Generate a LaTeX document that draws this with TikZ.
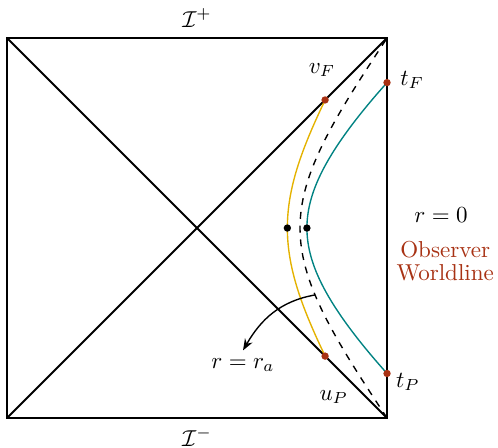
\documentclass[tikz,border=0pt]{standalone}
\usepackage{tikz}
\usetikzlibrary{arrows.meta}

\definecolor{rust}{RGB}{168,50,20}
\definecolor{gold}{RGB}{228,178,0}
\definecolor{tealc}{RGB}{0,130,130}

\begin{document}
\begin{tikzpicture}[x=0.58cm,y=0.58cm]

    \useasboundingbox (-0.184,-0.763) rectangle (12.92,11.0);

    % パラメータ
    \pgfmathsetmacro{\L}{10}
    \pgfmathsetmacro{\k}{\L/180}
    \pgfmathsetmacro{\ra}{0.659}

    % 四隅と各点
    \coordinate (BL) at (0,0);
    \coordinate (BR) at (\L,0);
    \coordinate (TR) at (\L,\L);
    \coordinate (TL) at (0,\L);
    \coordinate (vF) at (8.37,8.37);
    \coordinate (uP) at (8.37,1.63);
    \coordinate (tF) at (\L,{\L/2+68.9*\k});
    \coordinate (tP) at (\L,{\L/2-68.9*\k});
    \coordinate (Y0) at ({\L-asin(0.734)*\k},\L/2);
    \coordinate (G0) at ({\L-asin(0.961*0.64)*\k},\L/2);
    \coordinate (A) at ({\L-asin(\ra*cos(31.7))*\k},{\L/2-31.7*\k});

    % 正方形と対角線
    \draw [thick] (BL) rectangle (TR);
    \draw [thick] (BL) -- (TR);
    \draw [thick] (TL) -- (BR);

    % 曲線
    \draw [semithick, dashed] plot [domain=-90:90, samples=90, variable=\t]
        ({\L-asin(\ra*cos(\t))*\k}, {\L/2+\t*\k});
    \draw [semithick, tealc] plot [domain=-68.9:68.9, samples=90, variable=\t]
        ({\L-asin(0.961*(cos(\t)-0.36))*\k}, {\L/2+\t*\k});
    \draw [semithick, gold] plot [domain=-60.7:60.7, samples=90, variable=\t]
        ({\L-asin(0.479*cos(\t)+0.255)*\k}, {\L/2+\t*\k});

    % 点
    \fill [rust] (vF) circle (1.6pt);
    \fill [rust] (uP) circle (1.6pt);
    \fill [rust] (tF) circle (1.6pt);
    \fill [rust] (tP) circle (1.6pt);
    \fill (Y0) circle (1.6pt);
    \fill (G0) circle (1.6pt);

    % ラベル
    \node (Ip) at (5,10.53) {$\mathcal{I}^+$};
    \node (Im) at (5,-0.5) {$\mathcal{I}^-$};
    \node (vFl) at (8.29,9.16) {$v_F$};
    \node (tFl) at (10.66,8.9) {$t_F$};
    \node (tPl) at (10.55,0.95) {$t_P$};
    \node (uPl) at (8.6,0.55) {$u_P$};
    \node (r0) at (11.42,5.34) {$r=0$};
    \node [rust, align=center] (obs) at (11.53,4.14) {Observer\\[-2pt]Worldline};
    \node (ral) at (6.21,1.39) {$r=r_a$};

    \draw [semithick, -{Stealth[length=5pt]}] (A) to [out=190, in=60] (ral.north);

\end{tikzpicture}
\end{document}
